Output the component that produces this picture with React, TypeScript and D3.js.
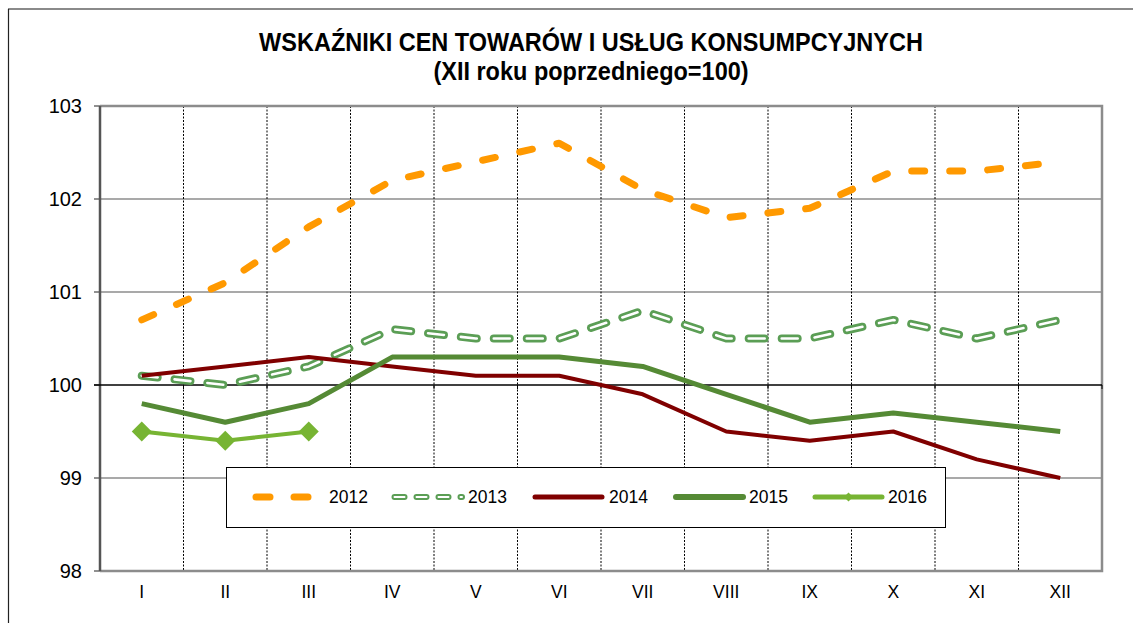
import React from "react";
import * as d3 from "d3";

const months = ["I", "II", "III", "IV", "V", "VI", "VII", "VIII", "IX", "X", "XI", "XII"];
const yTicks = [98, 99, 100, 101, 102, 103];
const s2012 = [100.7, 101.1, 101.7, 102.2, 102.4, 102.6, 102.1, 101.8, 101.9, 102.3, 102.3, 102.4];
const s2013 = [100.1, 100.0, 100.2, 100.6, 100.5, 100.5, 100.8, 100.5, 100.5, 100.7, 100.5, 100.7];
const s2014 = [100.1, 100.2, 100.3, 100.2, 100.1, 100.1, 99.9, 99.5, 99.4, 99.5, 99.2, 99.0];
const s2015 = [99.8, 99.6, 99.8, 100.3, 100.3, 100.3, 100.2, 99.9, 99.6, 99.7, 99.6, 99.5];
const s2016 = [99.5, 99.4, 99.5];
const seriesNames = ["2012", "2013", "2014", "2015", "2016"];

const C12 = "#FF9900";
const C13 = "#5B9E55";
const C14 = "#800000";
const C15 = "#558A35";
const C16 = "#77B433";
const FONT = "'Liberation Sans', Arial, sans-serif";

export default function App() {
  const L = 100, R = 1102, T = 106, B = 571;
  const x = d3.scaleBand<string>().domain(months).range([L, R]);
  const bw = x.bandwidth();
  const cx = (i: number) => (x(months[i]) as number) + bw / 2;
  const y = d3.scaleLinear().domain([98, 103]).range([B, T]);
  const line = d3.line<number>().x((_, i) => cx(i)).y((d) => y(d));
  const boundaries = months.slice(1).map((m) => x(m) as number);

  const diamond = (px: number, py: number, r: number) =>
    `M${px},${py - r}L${px + r},${py}L${px},${py + r}L${px - r},${py}Z`;

  const legY = 497;
  const legItems = [
    { name: seriesNames[0], x0: 256, x1: 322, tx: 329 },
    { name: seriesNames[1], x0: 394.5, x1: 462, tx: 468 },
    { name: seriesNames[2], x0: 535, x1: 602, tx: 609 },
    { name: seriesNames[3], x0: 676, x1: 743, tx: 749 },
    { name: seriesNames[4], x0: 815, x1: 882, tx: 888 },
  ];

  return (
    <svg
      width={1133}
      height={623}
      style={{ position: "absolute", left: 0, top: 0, background: "#fff" }}
      fontFamily={FONT}
    >
      <rect x={0} y={0} width={1133} height={623} fill="#fff" />
      <line x1={8} y1={9} x2={1133} y2={9} stroke="#8a8a8a" strokeWidth={2} />
      <line x1={8.5} y1={9} x2={8.5} y2={623} stroke="#222" strokeWidth={1.2} />

      <text transform="translate(591,51) scale(1,1.12)" textAnchor="middle" fontWeight="bold" fontSize={23.5} fill="#000">
        WSKAŹNIKI CEN TOWARÓW I USŁUG KONSUMPCYJNYCH
      </text>
      <text transform="translate(591,80) scale(1,1.12)" textAnchor="middle" fontWeight="bold" fontSize={23.5} fill="#000">
        (XII roku poprzedniego=100)
      </text>

      {yTicks.filter((t) => t !== 98 && t !== 100 && t !== 103).map((t) => (
        <line key={t} x1={L} x2={R} y1={y(t)} y2={y(t)} stroke="#8c8c8c" strokeWidth={1.3} />
      ))}
      {boundaries.map((b, i) => (
        <line key={i} x1={b} x2={b} y1={T} y2={B} stroke="#000" strokeWidth={1} strokeDasharray="2,1.5" />
      ))}
      <path d={`M${L},${T}H${R}V${B}H${L}`} fill="none" stroke="#8c8c8c" strokeWidth={2.5} />
      <line x1={L} x2={L} y1={T} y2={B} stroke="#555" strokeWidth={2.5} />
      {yTicks.map((t) => (
        <g key={t}>
          <line x1={L - 6} x2={L} y1={y(t)} y2={y(t)} stroke="#555" strokeWidth={1.3} />
          <text x={82} y={y(t)} dy="0.35em" textAnchor="end" fontSize={20} fill="#000">
            {t}
          </text>
        </g>
      ))}
      <line x1={L - 6} x2={R} y1={y(100)} y2={y(100)} stroke="#000" strokeWidth={1.5} />
      {[...boundaries, R].map((b, i) => (
        <line key={i} x1={b} x2={b} y1={y(100)} y2={y(100) + 4} stroke="#000" strokeWidth={1} />
      ))}
      {months.map((m, i) => (
        <text key={m} x={cx(i)} y={598} textAnchor="middle" fontSize={17.5} fill="#000">
          {m}
        </text>
      ))}

      <path d={line(s2012) || ""} fill="none" stroke={C12} strokeWidth={7} strokeDasharray="13,25" strokeLinecap="round" strokeLinejoin="round" />
      <path d={line(s2013) || ""} fill="none" stroke={C13} strokeWidth={8} strokeDasharray="16,17" strokeLinecap="round" strokeLinejoin="round" />
      <path d={line(s2013) || ""} fill="none" stroke="#fff" strokeWidth={2.6} strokeDasharray="16,17" strokeLinecap="round" strokeLinejoin="round" />
      <path d={line(s2014) || ""} fill="none" stroke={C14} strokeWidth={4} strokeLinejoin="round" />
      <path d={line(s2015) || ""} fill="none" stroke={C15} strokeWidth={5} strokeLinejoin="round" />
      <path d={line(s2016) || ""} fill="none" stroke={C16} strokeWidth={4} strokeLinejoin="round" />
      {s2016.map((v, i) => (
        <path key={i} d={diamond(cx(i), y(v), 10)} fill={C16} />
      ))}

      <rect x={226.5} y={467.5} width={719} height={60} fill="#fff" stroke="#000" strokeWidth={1} />
      {legItems.map((it, i) => (
        <g key={it.name}>
          {i === 0 && (
            <line x1={it.x0} x2={it.x1} y1={legY} y2={legY} stroke={C12} strokeWidth={7} strokeDasharray="14,24" strokeLinecap="round" />
          )}
          {i === 1 && (
            <>
              <line x1={it.x0} x2={it.x1} y1={legY} y2={legY} stroke={C13} strokeWidth={6} strokeDasharray="10,12" strokeLinecap="round" />
              <line x1={it.x0} x2={it.x1} y1={legY} y2={legY} stroke="#fff" strokeWidth={2} strokeDasharray="10,12" strokeLinecap="round" />
            </>
          )}
          {i === 2 && <line x1={it.x0} x2={it.x1} y1={legY} y2={legY} stroke={C14} strokeWidth={5} strokeLinecap="round" />}
          {i === 3 && <line x1={it.x0} x2={it.x1} y1={legY} y2={legY} stroke={C15} strokeWidth={6} strokeLinecap="round" />}
          {i === 4 && (
            <>
              <line x1={it.x0} x2={it.x1} y1={legY} y2={legY} stroke={C16} strokeWidth={5} strokeLinecap="round" />
              <path d={diamond((it.x0 + it.x1) / 2, legY, 4.5)} fill={C16} />
            </>
          )}
          <text x={it.tx} y={legY} dy="0.35em" fontSize={17.5} fill="#000">
            {it.name}
          </text>
        </g>
      ))}
    </svg>
  );
}
